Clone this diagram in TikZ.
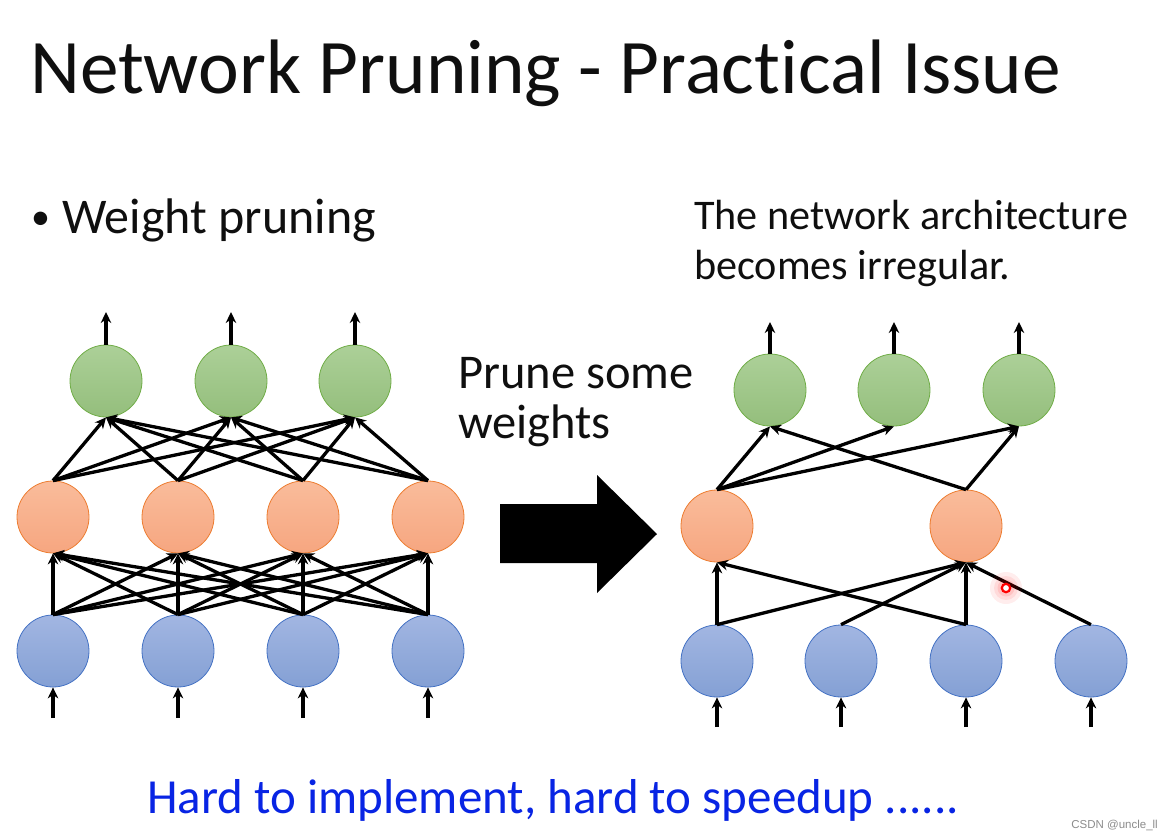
\documentclass[tikz,border=0pt]{standalone}
\usepackage{fontspec}
\setmainfont{Carlito}[Ligatures={NoCommon}]
\newfontfamily\wmfont{Liberation Sans}
\usetikzlibrary{arrows.meta,shadings}
\definecolor{txt}{RGB}{15,15,15}
\definecolor{bluetxt}{RGB}{8,36,228}
\definecolor{gtop}{RGB}{172,208,152}
\definecolor{gbot}{RGB}{148,190,124}
\definecolor{gline}{RGB}{112,173,71}
\definecolor{otop}{RGB}{250,188,155}
\definecolor{obot}{RGB}{246,166,128}
\definecolor{oline}{RGB}{237,125,49}
\definecolor{btop}{RGB}{162,182,226}
\definecolor{bbot}{RGB}{132,160,212}
\definecolor{bline}{RGB}{68,114,196}
\tikzset{
  neuron/.style={circle, minimum size=72pt, inner sep=0pt, line width=0.8pt},
  outn/.style={neuron, draw=gline, top color=gtop, bottom color=gbot},
  hidn/.style={neuron, draw=oline, top color=otop, bottom color=obot},
  inn/.style={neuron, draw=bline, top color=btop, bottom color=bbot},
  conn/.style={line width=3.3pt, -{Stealth[length=11pt,width=10.5pt]}},
  lbl/.style={inner sep=0pt, anchor=base west, text=txt},
}
\begin{document}
\begin{tikzpicture}[x=1pt,y=-1pt]
\useasboundingbox[fill=white] (0,0) rectangle (1176,839);

% texts
\node[lbl, font=\fontsize{77.2}{77.2}\selectfont] (title) at (30,93) {Network Pruning - Practical Issue};
\node[lbl, font=\fontsize{38}{38}\selectfont] (bul) at (31,229) {•};
\node[lbl, font=\fontsize{50}{50}\selectfont] (wp) at (62,233) {Weight pruning};
\node[lbl, font=\fontsize{42.2}{42.2}\selectfont] (arch1) at (694,229) {The network architecture};
\node[lbl, font=\fontsize{42.2}{42.2}\selectfont] (arch2) at (694,279) {becomes irregular.};
\node[lbl, font=\fontsize{48.5}{48.5}\selectfont] (pr1) at (458,388) {Prune some};
\node[lbl, font=\fontsize{48.5}{48.5}\selectfont] (pr2) at (458,438) {weights};
\node[lbl, text=bluetxt, font=\fontsize{49}{49}\selectfont] (hard) at (147,813) {Hard to implement, hard to speedup ......};
\node[inner sep=0pt, anchor=base east, text=black!45, font=\wmfont\fontsize{11.5}{11.5}\selectfont] (wm) at (1158,828) {CSDN @uncle\_ll};

% big arrow
\fill[black] (500,504) -- (597,504) -- (597,475) -- (657,534) -- (597,593) -- (597,563) -- (500,563) -- cycle;

% left network
\foreach \i/\x in {1/53,2/178,3/303,4/428}{
  \node[inn] (b\i) at (\x,651) {};
  \node[hidn] (h\i) at (\x,517) {};
  \coordinate (bi\i) at (\x,718);
  \draw[conn] (bi\i) -- (b\i.south);
}
\foreach \i/\x in {1/106,2/231,3/355}{
  \node[outn] (o\i) at (\x,381) {};
  \coordinate (oo\i) at (\x,312);
  \draw[conn] (o\i.north) -- (oo\i);
}
\foreach \i in {1,...,4}{
  \foreach \j in {1,...,4}{
    \draw[conn] (b\i.north) -- (h\j.south);
  }
  \foreach \j in {1,2,3}{
    \draw[conn] (h\i.north) -- (o\j.south);
  }
}

% right network
\foreach \i/\x in {1/717,2/841,3/966,4/1091}{
  \node[inn] (rb\i) at (\x,661) {};
  \coordinate (rbi\i) at (\x,727);
  \draw[conn] (rbi\i) -- (rb\i.south);
}
\node[hidn] (rh1) at (717,526) {};
\node[hidn] (rh2) at (966,526) {};
\foreach \i/\x in {1/770,2/894,3/1019}{
  \node[outn] (ro\i) at (\x,390) {};
  \coordinate (roo\i) at (\x,322);
  \draw[conn] (ro\i.north) -- (roo\i);
}
\draw[conn] (rb1.north) -- (rh1.south);
\draw[conn] (rb1.north) -- (rh2.south);
\draw[conn] (rb2.north) -- (rh2.south);
\draw[conn] (rb3.north) -- (rh1.south);
\draw[conn] (rb3.north) -- (rh2.south);
\draw[conn] (rb4.north) -- (rh2.south);
\draw[conn] (rh1.north) -- (ro1.south);
\draw[conn] (rh1.north) -- (ro2.south);
\draw[conn] (rh1.north) -- (ro3.south);
\draw[conn] (rh2.north) -- (ro1.south);
\draw[conn] (rh2.north) -- (ro3.south);

% cursor highlight
\coordinate (cur) at (1006,588);
\fill[red, opacity=0.07] (cur) circle (16);
\fill[red, opacity=0.08] (cur) circle (12);
\fill[red, opacity=0.10] (cur) circle (8.5);
\draw[red, line width=2.2pt, fill=white] (cur) circle (4.2);
\end{tikzpicture}
\end{document}
